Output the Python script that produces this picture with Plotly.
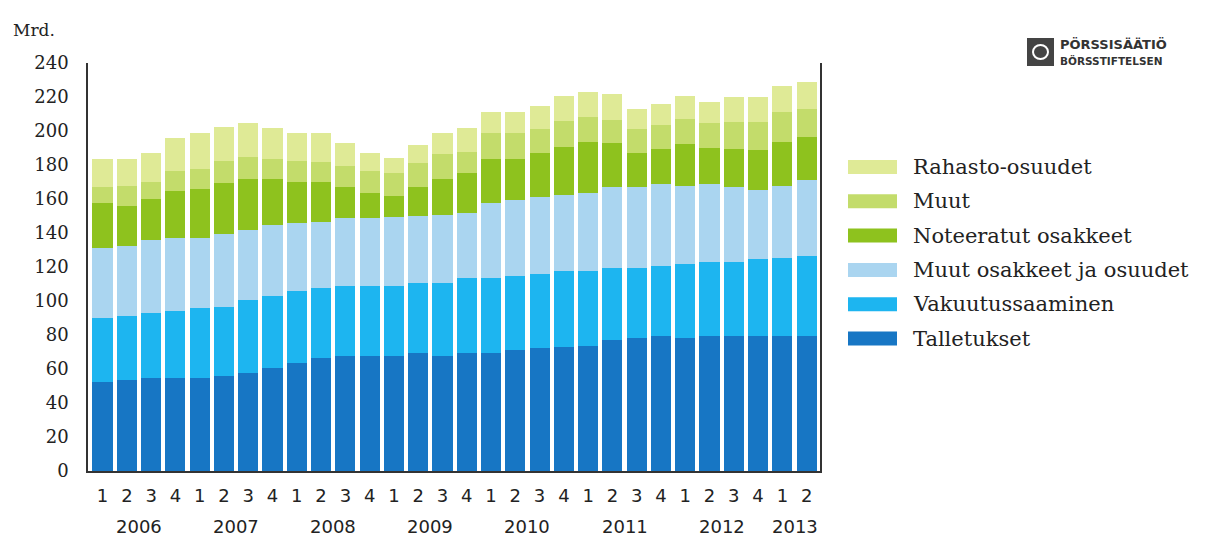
import plotly.graph_objects as go

quarters = ["1", "2", "3", "4"] * 7 + ["1", "2"]
years = ["2006", "2007", "2008", "2009", "2010", "2011", "2012", "2013"]

talletukset = [52.5, 53.5, 54.5, 54.5, 54.5, 55.9, 57.5, 60.4, 63.3, 66.3,
               67.6, 67.6, 67.6, 69.6, 67.6, 69.6, 69.2, 71.2, 72.2, 73.1,
               73.5, 77.1, 78.0, 79.4, 78.0, 79.4, 79.4, 79.4, 79.4, 79.4]
vakuutus = [37.3, 37.5, 38.2, 39.8, 41.2, 40.8, 43.1, 42.6, 42.7, 41.2,
            41.2, 41.2, 41.2, 40.8, 42.8, 43.7, 44.1, 43.5, 43.5, 44.7,
            44.3, 42.1, 41.2, 41.2, 43.8, 43.7, 43.7, 45.1, 45.7, 47.1]
muut_osakkeet = [41.2, 41.5, 43.3, 42.7, 41.6, 42.7, 41.2, 41.7, 39.7, 39.2,
                 39.8, 39.8, 40.4, 39.6, 40.2, 38.7, 44.5, 44.7, 45.3, 44.6,
                 45.5, 47.7, 47.7, 48.2, 45.8, 45.7, 43.8, 40.8, 42.5, 44.7]
noteeratut = [26.5, 23.5, 24.0, 27.7, 28.4, 29.8, 29.8, 27.1, 24.3, 23.3,
              18.7, 14.7, 12.6, 17.3, 21.0, 23.1, 25.5, 23.9, 25.9, 28.4,
              30.4, 25.8, 20.0, 20.4, 24.8, 21.0, 22.3, 23.3, 26.1, 25.1]
muut = [9.5, 11.6, 10.0, 11.8, 12.1, 13.2, 13.3, 11.5, 12.4, 12.0,
        12.1, 13.2, 13.3, 13.7, 14.9, 12.7, 15.3, 15.3, 14.1, 15.2,
        14.7, 13.8, 14.1, 14.3, 14.5, 14.7, 16.3, 16.9, 17.7, 16.5]
rahasto = [16.5, 15.9, 17.0, 19.2, 20.8, 20.1, 19.6, 18.3, 16.2, 16.6,
           13.3, 10.4, 8.8, 10.8, 12.1, 13.8, 12.8, 12.8, 13.7, 14.3,
           14.7, 15.3, 11.7, 12.4, 13.7, 12.8, 14.5, 14.5, 15.1, 16.2]

series_names = ["Talletukset", "Vakuutussaaminen", "Muut osakkeet ja osuudet",
                "Noteeratut osakkeet", "Muut", "Rahasto-osuudet"]
series_values = [talletukset, vakuutus, muut_osakkeet, noteeratut, muut, rahasto]
colors = ["#1776c4", "#1db5f0", "#aad5f0", "#8ec21e", "#c3dc6b", "#dfea96"]

x = list(range(len(quarters)))

fig = go.Figure()
for name, vals, col in zip(series_names, series_values, colors):
    fig.add_trace(go.Bar(x=x, y=vals, name=name, marker=dict(color=col, line=dict(width=0)),
                         showlegend=False))

serif = "DejaVu Serif"
sans = "DejaVu Sans"

fig.update_layout(
    barmode="stack",
    bargap=0.17,
    width=1216, height=540,
    margin=dict(l=88, r=396, t=63, b=69),
    plot_bgcolor="white", paper_bgcolor="white",
    xaxis=dict(
        tickmode="array", tickvals=x, ticktext=quarters,
        range=[-0.6, len(x) - 0.45],
        showline=True, linecolor="#333", linewidth=1.5,
        ticks="", showgrid=False, zeroline=False,
        ticklabelstandoff=8,
        tickfont=dict(family=sans, size=18, color="#222"),
    ),
    yaxis=dict(
        range=[0, 240], tickmode="linear", tick0=0, dtick=20,
        showline=True, linecolor="#333", linewidth=1.5, mirror=True,
        ticks="", showgrid=False, zeroline=False,
        ticklabelstandoff=14,
        tickfont=dict(family=serif, size=18, color="#222"),
    ),
)

# year labels centred under each group of quarters
for i, yr in enumerate(years):
    idx = [j for j in range(len(x)) if j // 4 == i]
    fig.add_annotation(x=sum(idx) / len(idx), y=-0.137, xref="x", yref="paper",
                       text=yr, showarrow=False, yanchor="middle",
                       font=dict(family=sans, size=18, color="#222"))

fig.add_annotation(x=-0.105, y=1.08, xref="paper", yref="paper", text="Mrd.",
                   showarrow=False, xanchor="left", yanchor="middle",
                   font=dict(family=serif, size=17, color="#222"))

# legend (custom, wide swatches)
px_w = 1216 - 88 - 396
px_h = 540 - 63 - 69
def to_paper_x(px):
    return (px - 88) / px_w
def to_paper_y(py):
    return (540 - 69 - py) / px_h

legend_order = list(zip(series_names, colors))[::-1]
for k, (name, col) in enumerate(legend_order):
    cy = 167 + k * 34.3
    fig.add_shape(type="rect", xref="paper", yref="paper",
                  x0=to_paper_x(848), x1=to_paper_x(897),
                  y0=to_paper_y(cy + 7), y1=to_paper_y(cy - 7),
                  fillcolor=col, line=dict(width=0))
    fig.add_annotation(x=to_paper_x(911), y=to_paper_y(cy), xref="paper", yref="paper",
                       text=name, showarrow=False, xanchor="left", yanchor="middle",
                       font=dict(family=serif, size=21, color="#222"))

# logo
fig.add_shape(type="rect", xref="paper", yref="paper",
              x0=to_paper_x(1027), x1=to_paper_x(1054),
              y0=to_paper_y(66), y1=to_paper_y(38),
              fillcolor="#444", line=dict(width=0))
fig.add_shape(type="circle", xref="paper", yref="paper",
              x0=to_paper_x(1033), x1=to_paper_x(1048),
              y0=to_paper_y(59), y1=to_paper_y(45),
              fillcolor="#444", line=dict(width=2, color="white"))
fig.add_annotation(x=to_paper_x(1058), y=to_paper_y(45), xref="paper", yref="paper",
                   text="<b>PÖRSSISÄÄTIÖ</b>", showarrow=False, xanchor="left", yanchor="middle",
                   font=dict(family=sans, size=13, color="#333"))
fig.add_annotation(x=to_paper_x(1058), y=to_paper_y(60), xref="paper", yref="paper",
                   text="<b>BÖRSSTIFTELSEN</b>", showarrow=False, xanchor="left", yanchor="middle",
                   font=dict(family=sans, size=10.5, color="#333"))

fig.write_html("out.html")
